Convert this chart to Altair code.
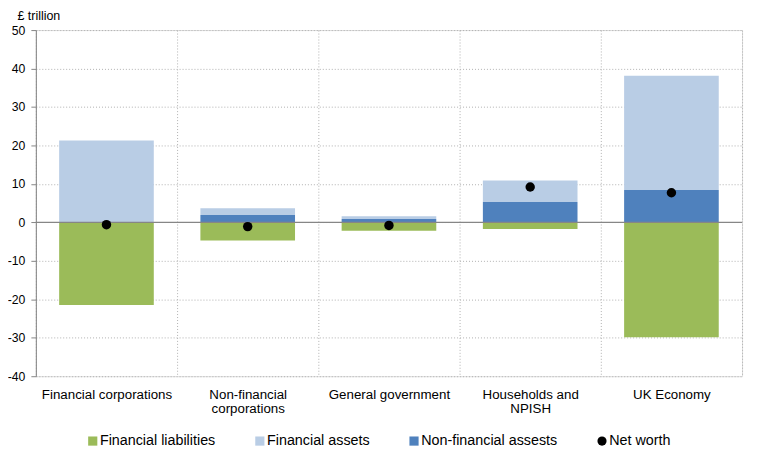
import altair as alt
import pandas as pd

categories = ["Financial corporations", "Non-financial corporations", "General government",
              "Households and NPISH", "UK Economy"]
financial_liabilities = [-21.5, -4.7, -2.2, -1.7, -29.9]
non_financial_assets = [0.0, 1.9, 0.9, 5.3, 8.4]
financial_assets = [21.3, 1.8, 0.7, 5.6, 29.7]
net_worth = [-0.6, -1.1, -0.8, 9.2, 7.7]
y_ticks = [-40, -30, -20, -10, 0, 10, 20, 30, 40, 50]

series_names = ["Financial liabilities", "Financial assets", "Non-financial assests", "Net worth"]
series_colors = ["#9BBB59", "#B9CDE5", "#4F81BD", "#000000"]
stack_order = {"Financial liabilities": 0, "Non-financial assests": 1, "Financial assets": 2}

rows = []
for i, c in enumerate(categories):
    rows.append({"cat": c, "series": "Financial liabilities", "value": financial_liabilities[i]})
    rows.append({"cat": c, "series": "Non-financial assests", "value": non_financial_assets[i]})
    rows.append({"cat": c, "series": "Financial assets", "value": financial_assets[i]})
bars_df = pd.DataFrame(rows)
bars_df["ord"] = bars_df["series"].map(stack_order)
nw_df = pd.DataFrame({"cat": categories, "series": "Net worth", "value": net_worth})

font = "Liberation Sans"
label_expr = ("datum.label == 'Non-financial corporations' ? ['Non-financial', 'corporations'] : "
              "datum.label == 'Households and NPISH' ? ['Households and', 'NPISH'] : datum.label")

x_axis = alt.Axis(title=None, labelAngle=0, labelExpr=label_expr, domain=False,
                  ticks=False, tickBand="extent", grid=True, gridColor="#b0b0b0",
                  gridDash=[1, 2], labelFont=font, labelFontSize=13.4,
                  labelColor="#000", labelPadding=11, labelLineHeight=15,
                  labelOverlap=False)
x_scale = alt.Scale(paddingInner=0, paddingOuter=0)
y_scale = alt.Scale(domain=[-40, 50], nice=False)
y_axis = alt.Axis(title="£ trillion", titleAngle=0, titleAlign="left",
                  titleBaseline="alphabetic",
                  titleX=-19, titleY=-11, titleFont=font, titleFontSize=12.5,
                  titleFontWeight="normal", titleColor="#000",
                  values=y_ticks, labelExpr="'' + datum.value", labelFont=font,
                  labelFontSize=12.3, labelColor="#000", domainColor="#868686",
                  tickColor="#868686", tickSize=5, gridColor="#b0b0b0", gridDash=[1, 2],
                  labelPadding=6, labelOverlap=False, labelBound=False)

color_scale = alt.Scale(domain=series_names, range=series_colors)
shape_scale = alt.Scale(domain=series_names, range=["square", "square", "square", "circle"])
legend = alt.Legend(title=None, orient="none", legendX=50, legendY=406,
                    direction="horizontal", gridAlign="none", labelFont=font,
                    labelFontSize=14.4, labelColor="#000", symbolSize=85, symbolStrokeWidth=0,
                    columnPadding=37, labelOffset=0)

bars = alt.Chart(bars_df).mark_bar(width=alt.RelativeBandSize(0.67)).encode(
    x=alt.X("cat:N", sort=categories, scale=x_scale, axis=x_axis),
    y=alt.Y("value:Q", stack="zero", scale=y_scale, axis=y_axis),
    color=alt.Color("series:N", scale=color_scale, legend=legend),
    order=alt.Order("ord:Q"),
)

zero = alt.Chart(pd.DataFrame({"z": [0]})).mark_rule(color="#868686", strokeWidth=1.3).encode(
    y=alt.Y("z:Q", scale=y_scale, axis=y_axis))

points = alt.Chart(nw_df).mark_point(filled=True, size=90, opacity=1).encode(
    x=alt.X("cat:N", sort=categories, scale=x_scale, axis=x_axis),
    y=alt.Y("value:Q", scale=y_scale, axis=y_axis),
    color=alt.Color("series:N", scale=color_scale, legend=legend),
    shape=alt.Shape("series:N", scale=shape_scale, legend=legend),
)

chart = alt.layer(bars, zero, points).properties(
    width=710, height=348,
    autosize=alt.AutoSizeParams(type="none"),
    padding={"left": 28, "top": 21, "right": 10, "bottom": 75},
).configure_view(stroke="#b0b0b0", strokeDash=[1, 2]).configure(background="white")

chart.save("out.html", embed_options={"renderer": "svg", "actions": False})
